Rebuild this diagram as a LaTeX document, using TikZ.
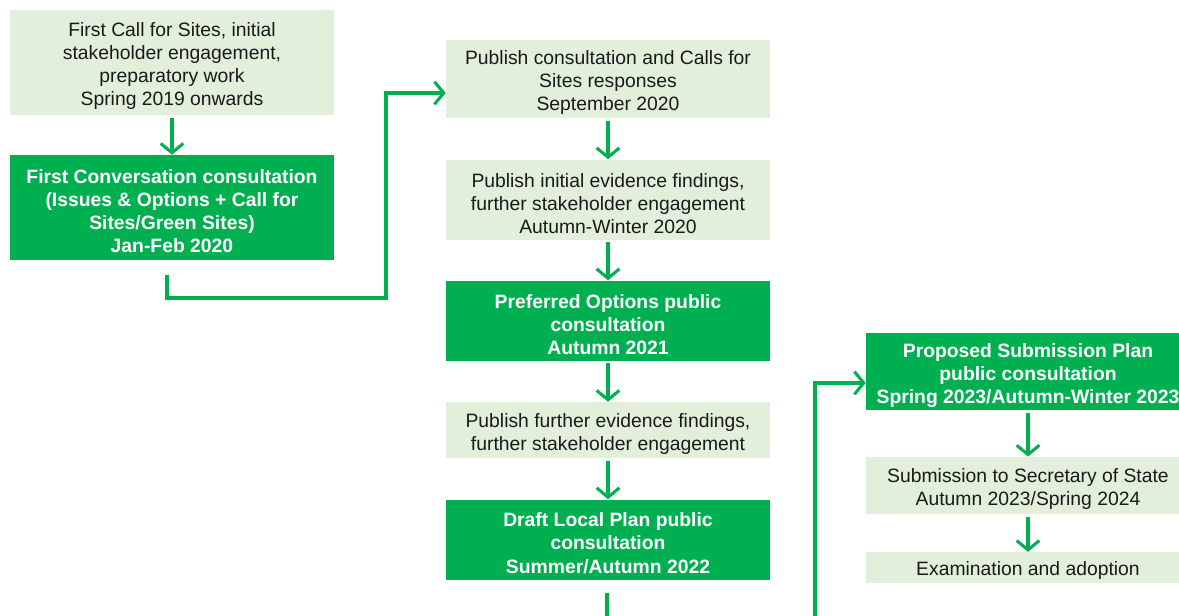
\documentclass[tikz,border=0pt]{standalone}
\usepackage{fontspec}
\setmainfont{Liberation Sans}
\usetikzlibrary{arrows.meta}
\definecolor{planGreen}{RGB}{0,176,80}
\definecolor{planLight}{RGB}{226,239,218}
\definecolor{planText}{RGB}{26,26,26}
\newcommand{\toplift}{\rule{0pt}{16pt}}
\begin{document}
\begin{tikzpicture}[x=0.75pt,y=-0.75pt,
  stage/.style={fill=planLight,text=planText,align=center,inner sep=0pt,
    minimum width=243pt,font=\fontsize{14.5}{17.3}\selectfont},
  keystage/.style={stage,fill=planGreen,text=white,font=\fontsize{14.5}{17.3}\selectfont\bfseries},
  flow/.style={draw=planGreen,line width=2.3pt,-{Straight Barb[length=7pt,width=17pt,line width=2.3pt]}}]
\useasboundingbox (0,0) rectangle (1179,615);
\clip (0,0) rectangle (1179,615);
% left column
\node[stage,minimum height=78.75pt] (callsites) at (172,62.5) {\toplift First Call for Sites, initial\\stakeholder engagement,\\preparatory work\\Spring 2019 onwards};
\node[keystage,minimum height=78.75pt] (firstconv) at (172,207.5) {\toplift First Conversation consultation\\(Issues \& Options + Call for\\Sites/Green Sites)\\Jan-Feb 2020};
% middle column
\node[stage,minimum height=59pt] (responses) at (608,79) {\toplift Publish consultation and Calls for\\Sites responses\\September 2020};
\node[stage,minimum height=60pt] (evidence) at (608,199.5) {\toplift Publish initial evidence findings,\\further stakeholder engagement\\Autumn-Winter 2020};
\node[keystage,minimum height=60pt] (preferred) at (608,320.5) {\toplift Preferred Options public\\consultation\\Autumn 2021};
\node[stage,minimum height=42pt] (further) at (608,430) {\toplift Publish further evidence findings,\\further stakeholder engagement};
\node[keystage,minimum height=60pt] (draftplan) at (608,539.5) {\toplift Draft Local Plan public\\consultation\\Summer/Autumn 2022};
% right column
\node[keystage,minimum height=58pt] (proposed) at (1028,371.5) {\toplift Proposed Submission Plan\\public consultation\\Spring 2023/Autumn-Winter 2023};
\node[stage,minimum height=43pt] (submission) at (1028,485.5) {\toplift Submission to Secretary of State\\Autumn 2023/Spring 2024};
\node[stage,minimum height=23pt] (adoption) at (1028,567.5) {\rule{0pt}{15.5pt}Examination and adoption};
% connectors
\draw[flow,shorten <=2pt] (callsites) -- (firstconv);
\draw[flow,shorten <=2pt] (responses) -- (evidence);
\draw[flow,shorten <=2pt] (evidence) -- (preferred);
\draw[flow,shorten <=2pt] (preferred) -- (further);
\draw[flow,shorten <=2pt] (further) -- (draftplan);
\draw[flow,shorten <=2pt] (proposed) -- (submission);
\draw[flow,shorten <=2pt] (submission) -- (adoption);
\draw[flow] ([xshift=-3.75pt,yshift=-11pt]firstconv.south) |- (386,298) |- ([yshift=-10.5pt]responses.west);
\draw[flow] ([xshift=-0.75pt,yshift=-10pt]draftplan.south) |- (815,650) |- ([yshift=-8.6pt]proposed.west);
\end{tikzpicture}
\end{document}
